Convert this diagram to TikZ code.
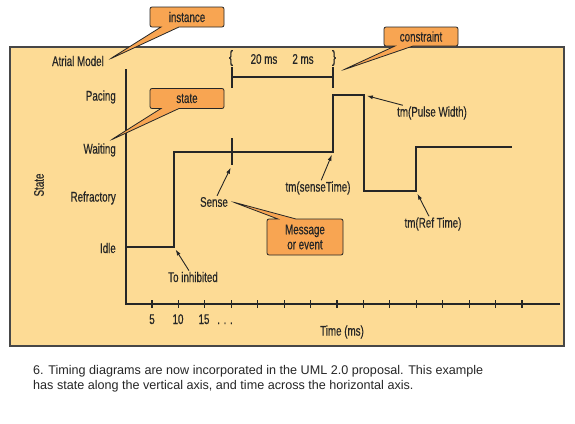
\documentclass[tikz,border=0pt]{standalone}
\usepackage{fontspec}
\setmainfont{Liberation Sans}
\newfontfamily\tdcond[FakeStretch=0.7,FakeBold=0.4]{Liberation Sans}
\usetikzlibrary{arrows.meta,shapes.callouts,calc}
\definecolor{tdpanel}{HTML}{FDDB95}
\definecolor{tdnotefill}{HTML}{F8A552}
\definecolor{tdink}{HTML}{262626}
\tikzset{
  tdlabel/.style={font=\tdcond\fontsize{14}{14}\selectfont, text=tdink, inner sep=1pt},
  tdstate/.style={tdlabel, anchor=east},
  tdnote/.style={rectangle callout, draw=tdink, fill=tdnotefill, rounded corners=2pt, line width=0.8pt,
    minimum width=74pt, minimum height=20pt, callout pointer width=18pt, inner sep=2pt,
    font=\tdcond\fontsize{14}{15}\selectfont, text=tdink, align=center},
  tdarrow/.style={-{Latex[length=6pt,width=4pt]}, line width=0.9pt, draw=tdink, shorten >=3pt},
  tdsignal/.style={line width=1.2pt, draw=tdink},
  tdaxis/.style={line width=1.5pt, draw=tdink},
}

\begin{document}
\begin{tikzpicture}[x=1pt, y=-1pt]
  \fill[white] (0,0) rectangle (575,423);
  \useasboundingbox (0,0) rectangle (575,423);

  \draw[fill=tdpanel, draw=tdink!85, line width=1.2pt] (10,47) rectangle (564,346);

  \draw[tdaxis] (126,69) -- (126,304) -- (560,304);
  \foreach \i in {0,...,14}
    \draw[tdaxis, line width=1.2pt] ({152+26.43*\i},300) -- ({152+26.43*\i},308);

  \node[tdstate] (atrial) at (105,61) {Atrial Model};
  \node[tdstate] (pacing) at (117,97) {Pacing};
  \node[tdstate] (waiting) at (117,150) {Waiting};
  \node[tdstate] (refractory) at (117,198) {Refractory};
  \node[tdstate] (idle) at (117,248) {Idle};
  \node[tdlabel, rotate=90] (stateaxis) at (39,185) {State};

  \node[tdlabel, anchor=base] (t5) at (152,324) {5};
  \node[tdlabel, anchor=base] (t10) at (178,324) {10};
  \node[tdlabel, anchor=base] (t15) at (204,324) {15};
  \node[tdlabel, anchor=base] (tdots) at (225,324) {. . .};
  \node[tdlabel] (timeaxis) at (342,332) {Time (ms)};

  \coordinate (s0) at (126,247);
  \coordinate (s1) at (174,247);
  \coordinate (s2) at (174,152);
  \coordinate (s3) at (333,152);
  \coordinate (s4) at (333,95);
  \coordinate (s5) at (364,95);
  \coordinate (s6) at (364,191);
  \coordinate (s7) at (416,191);
  \coordinate (s8) at (416,147);
  \coordinate (s9) at (512,147);
  \draw[tdsignal] (s0) -- (s1) -- (s2) -- (s3) -- (s4) -- (s5) -- (s6) -- (s7) -- (s8) -- (s9);

  \coordinate (sensetop) at (232,138);
  \coordinate (sensebot) at (232,165);
  \draw[tdsignal] (sensetop) -- (sensebot);

  \draw[tdsignal] (232,67) -- (232,88) (232,77) -- (333,77) (333,67) -- (333,88);
  \node[tdlabel, font=\tdcond\fontsize{17}{17}\selectfont] (lbrace) at (231,58) {\{};
  \node[tdlabel, font=\tdcond\fontsize{17}{17}\selectfont] (rbrace) at (334,58) {\}};
  \node[tdlabel] (span20) at (264,59) {20 ms};
  \node[tdlabel] (span2) at (303,59) {2 ms};

  \node[tdlabel] (sense) at (214,202) {Sense};
  \node[tdlabel] (sensetime) at (318,188) {tm(senseTime)};
  \node[tdlabel] (pulse) at (432,113) {tm(Pulse Width)};
  \node[tdlabel] (reftime) at (433,224) {tm(Ref Time)};
  \node[tdlabel] (inhib) at (193,277) {To inhibited};

  \draw[tdarrow] (sense) -- (sensebot);
  \draw[tdarrow] (sensetime) -- (s3);
  \draw[tdarrow] (pulse) -- (s5);
  \draw[tdarrow] (reftime) -- (s7);
  \draw[tdarrow] (inhib) -- (s1);

  \coordinate (instancetip) at (110,59);
  \coordinate (statetip) at (111,140);
  \coordinate (constrainttip) at (343,70);
  \coordinate (eventtip) at (233,202);

  \node[tdnote, callout absolute pointer={(instancetip)}] (instance) at (187,17) {instance};
  \node[tdnote, callout absolute pointer={(statetip)}] (statenote) at (187,98.5) {state};
  \node[tdnote, minimum height=19pt, callout absolute pointer={(constrainttip)}] (constraint) at (421,36.5) {constraint};
  \node[tdnote, minimum width=76pt, minimum height=36pt, callout absolute pointer={(eventtip)}] (event) at (305,237) {Message\\or event};

  \node[font=\fontsize{12.6}{15}\selectfont, align=left, anchor=north west, inner sep=0pt, text=black!85] (caption) at (33,365)
    {6. Timing diagrams are now incorporated in the UML 2.0 proposal. This example\\has state along the vertical axis, and time across the horizontal axis.};
\end{tikzpicture}
\end{document}
